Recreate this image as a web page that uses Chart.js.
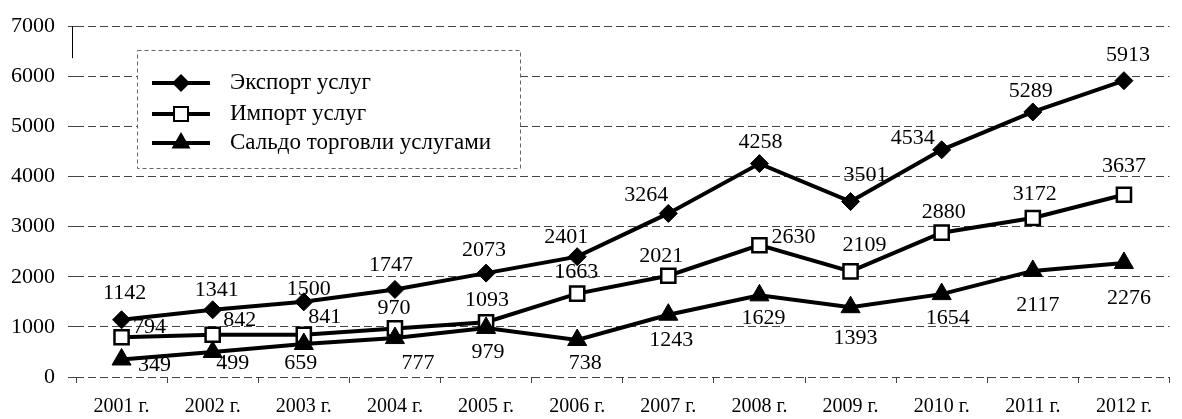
<!DOCTYPE html>
<html>
<head>
<meta charset="utf-8">
<script src="https://cdn.jsdelivr.net/npm/chart.js@4.4.1/dist/chart.umd.min.js"></script>
<style>
  html, body { margin: 0; padding: 0; background: #fff; }
  #wrap { width: 1182px; height: 419px; }
</style>
</head>
<body>
<div id="wrap"><canvas id="myChart"></canvas></div>
<script>
const years = ["2001 г.", "2002 г.", "2003 г.", "2004 г.", "2005 г.", "2006 г.",
  "2007 г.", "2008 г.", "2009 г.", "2010 г.", "2011 г.", "2012 г."];
const exportValues = [1142, 1341, 1500, 1747, 2073, 2401, 3264, 4258, 3501, 4534, 5289, 5913];
const importValues = [794, 842, 841, 970, 1093, 1663, 2021, 2630, 2109, 2880, 3172, 3637];
const saldoValues = [349, 499, 659, 777, 979, 738, 1243, 1629, 1393, 1654, 2117, 2276];
const seriesNames = ["Экспорт услуг", "Импорт услуг", "Сальдо торговли услугами"];

// where each value label sits, in px from its point
const exportLabelPos = [[3, -27], [4, -20], [5, -13], [-4, -24], [-2, -23], [-11, -19],
  [-22, -18], [1, -21], [15, -26], [-29, -12], [-2, -21], [4, -25]];
const importLabelPos = [[28, -10], [27, -15], [21, -18], [-1, -20], [1, -22], [-1, -21],
  [-7, -20], [34, -8], [14, -26], [2, -20], [2, -24], [0, -29]];
const saldoLabelPos = [[33, 6], [20, 11], [-3, 19], [23, 25], [2, 24], [8, 23],
  [3, 26], [4, 23], [5, 31], [6, 24], [5, 34], [5, 35]];

const serif = "'Liberation Serif', 'Times New Roman', serif";

function drawMark(c, style, x, y) {
  c.save();
  c.lineWidth = 2;
  c.strokeStyle = "#000";
  c.beginPath();
  if (style === "rectRot") {
    c.moveTo(x - 9, y); c.lineTo(x, y - 9); c.lineTo(x + 9, y); c.lineTo(x, y + 9);
    c.closePath(); c.fillStyle = "#000"; c.fill();
  } else if (style === "rect") {
    c.rect(x - 7, y - 7, 14, 14); c.fillStyle = "#fff"; c.fill(); c.stroke();
  } else {
    c.moveTo(x, y - 11); c.lineTo(x + 9.5, y + 5.5); c.lineTo(x - 9.5, y + 5.5);
    c.closePath(); c.fillStyle = "#000"; c.fill();
  }
  c.restore();
}

const pointLabels = {
  id: "pointLabels",
  afterDatasetsDraw(chart) {
    const c = chart.ctx;
    c.save();
    c.font = "22px " + serif;
    c.fillStyle = "#000";
    c.textAlign = "center";
    c.textBaseline = "middle";
    chart.data.datasets.forEach((ds, i) => {
      chart.getDatasetMeta(i).data.forEach((pt, j) => {
        const [dx, dy] = ds.labelPos[j];
        c.fillText(ds.data[j], pt.x + dx, pt.y + dy);
      });
    });
    c.restore();
  },
};

const boxLegend = {
  id: "boxLegend",
  afterDraw(chart) {
    const c = chart.ctx;
    c.save();
    c.fillStyle = "#fff";
    c.fillRect(137, 50, 383, 118);
    c.setLineDash([4, 3]);
    c.strokeStyle = "#666";
    c.lineWidth = 1;
    c.strokeRect(137.5, 50.5, 383, 118);
    c.setLineDash([]);
    const rows = [83, 114, 143];
    chart.data.datasets.forEach((ds, i) => {
      const y = rows[i];
      c.strokeStyle = "#000";
      c.lineWidth = ds.borderWidth;
      c.beginPath();
      c.moveTo(152, y);
      c.lineTo(210, y);
      c.stroke();
      drawMark(c, ds.pointStyle, 181, y);
      c.fillStyle = "#000";
      c.font = "23px " + serif;
      c.textBaseline = "middle";
      c.fillText(ds.label, 230, y);
    });
    c.restore();
  },
};

// short solid stub of the value axis at the top, as on the scan
const axisStub = {
  id: "axisStub",
  beforeDatasetsDraw(chart) {
    const c = chart.ctx;
    const a = chart.chartArea;
    c.save();
    c.strokeStyle = "#000";
    c.lineWidth = 1;
    c.beginPath();
    c.moveTo(a.left - 3.5, a.top);
    c.lineTo(a.left - 3.5, a.top + 32);
    c.stroke();
    c.restore();
  },
};

const ctx = document.getElementById("myChart");
let myChart = new Chart(ctx, {
  type: "line",
  data: {
    labels: years,
    datasets: [
      {
        label: seriesNames[0],
        data: exportValues,
        labelPos: exportLabelPos,
        borderColor: "#000",
        borderWidth: 4,
        pointStyle: "rectRot",
        pointRadius: 9,
        pointBackgroundColor: "#000",
        pointBorderColor: "#000",
        pointBorderWidth: 1,
        order: 1,
      },
      {
        label: seriesNames[1],
        data: importValues,
        labelPos: importLabelPos,
        borderColor: "#000",
        borderWidth: 4,
        pointStyle: "rect",
        pointRadius: 10,
        pointBackgroundColor: "#fff",
        pointBorderColor: "#000",
        pointBorderWidth: 2.5,
        order: 2,
      },
      {
        label: seriesNames[2],
        data: saldoValues,
        labelPos: saldoLabelPos,
        borderColor: "#000",
        borderWidth: 4,
        pointStyle: "triangle",
        pointRadius: 11,
        pointBackgroundColor: "#000",
        pointBorderColor: "#000",
        pointBorderWidth: 1,
        order: 0,
      },
    ],
  },
  options: {
    responsive: true,
    maintainAspectRatio: false,
    animation: false,
    layout: { padding: { top: 24, right: 0, bottom: 0, left: 0 } },
    plugins: {
      legend: { display: false },
      tooltip: { enabled: false },
    },
    scales: {
      x: {
        offset: true,
        grid: {
          offset: true,
          drawOnChartArea: false,
          tickLength: 6,
          tickColor: "#444",
        },
        border: { display: false },
        ticks: {
          color: "#000",
          padding: 12,
          font: { family: serif, size: 20 },
        },
        afterFit(scale) { scale.height = 42; },
      },
      y: {
        min: 0,
        max: 7000,
        ticks: {
          stepSize: 1000,
          color: "#000",
          padding: 13,
          font: { family: serif, size: 22 },
          callback: (v) => String(v),
        },
        grid: {
          color: "#444",
          lineWidth: 1,
          tickLength: 8,
        },
        border: { display: false, dash: [8, 4] },
        afterFit(scale) { scale.width = 76; },
      },
    },
  },
  plugins: [pointLabels, boxLegend, axisStub],
});
</script>
</body>
</html>
